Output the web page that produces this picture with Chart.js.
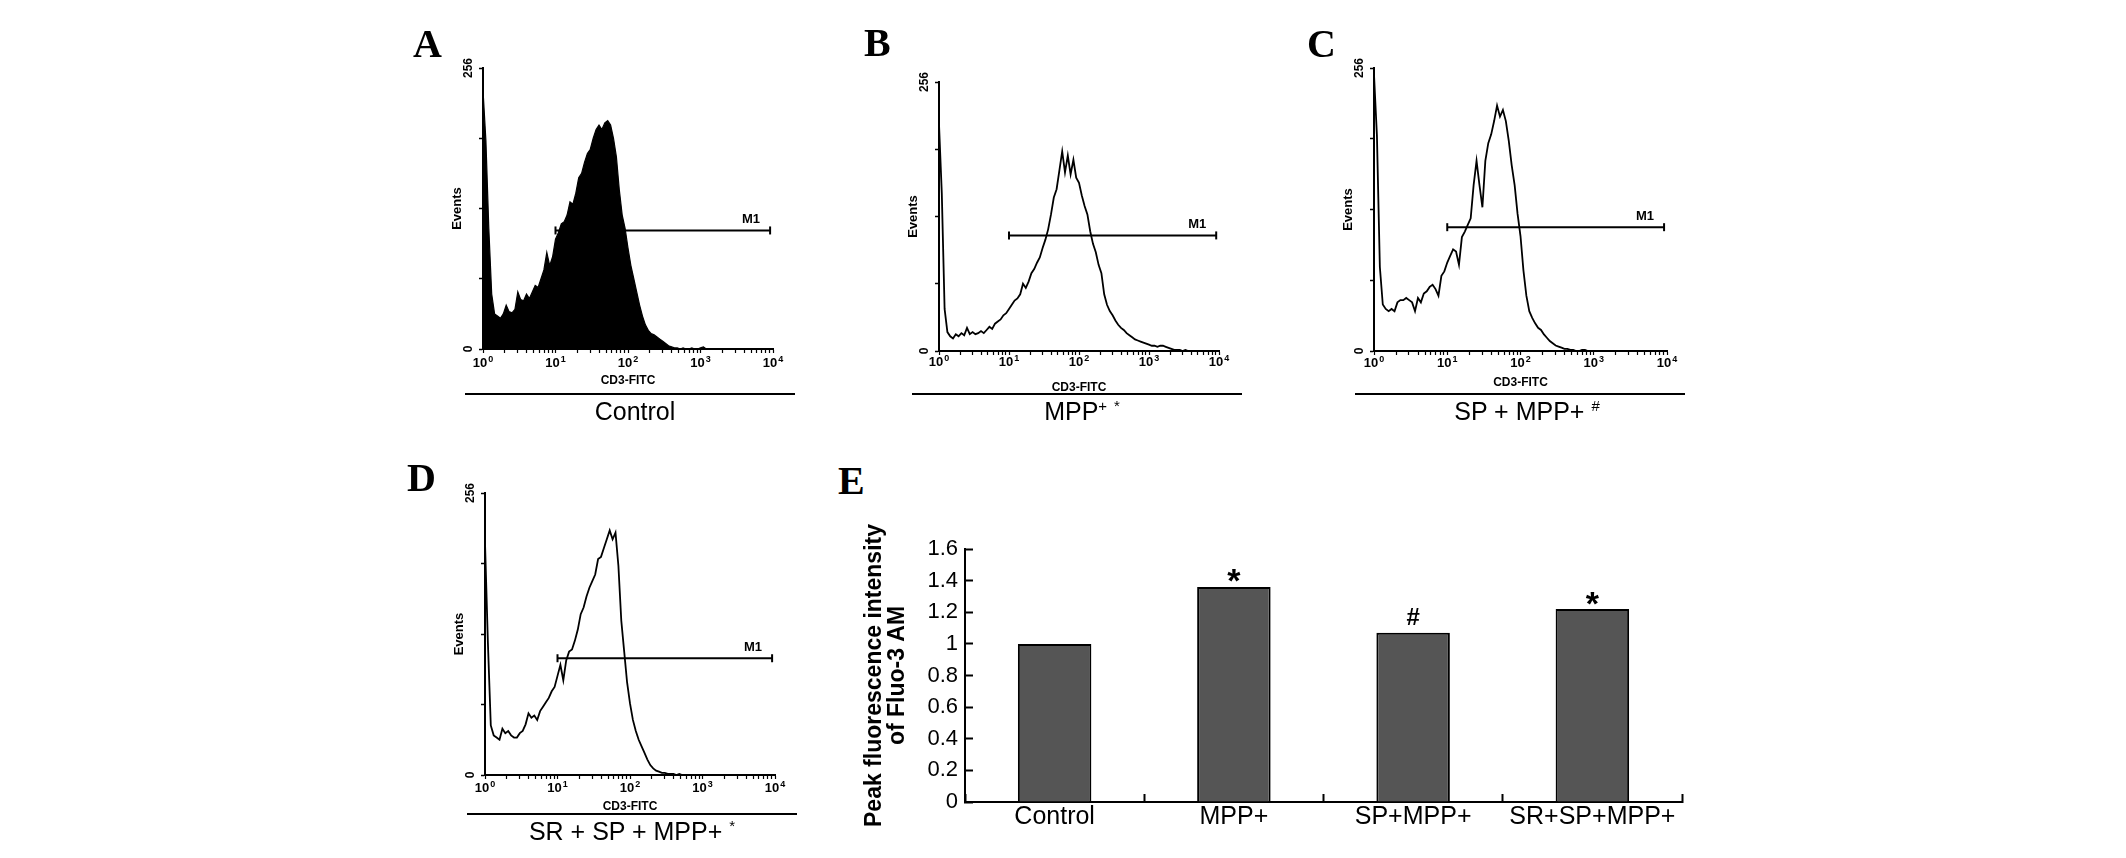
<!DOCTYPE html>
<html><head><meta charset="utf-8">
<script src="https://cdn.jsdelivr.net/npm/chart.js@4.4.1/dist/chart.umd.min.js"></script>
<style>
html,body{margin:0;padding:0;background:#fff;}
body{width:2126px;height:858px;position:relative;overflow:hidden;font-family:'Liberation Sans',Arial,sans-serif;color:#000;}
canvas{position:absolute;}
.letter{position:absolute;font-family:'Liberation Serif','Times New Roman',serif;font-weight:bold;font-size:40px;line-height:40px;z-index:2;}
.rule{position:absolute;height:2px;background:#000;z-index:2;}
.cap{position:absolute;width:400px;text-align:center;font-size:25px;line-height:25px;white-space:nowrap;z-index:2;}
.sup{font-size:15px;position:relative;top:-9px;}
</style></head><body>
<div class="letter" style="left:413px;top:24px;">A</div>
<div class="letter" style="left:864px;top:23px;">B</div>
<div class="letter" style="left:1307px;top:24px;">C</div>
<div class="letter" style="left:407px;top:458px;">D</div>
<div class="letter" style="left:838px;top:461px;">E</div>

<div class="rule" style="left:465px;top:393px;width:330px;"></div>
<div class="rule" style="left:912px;top:393px;width:330px;"></div>
<div class="rule" style="left:1355px;top:393px;width:330px;"></div>
<div class="rule" style="left:467px;top:813px;width:330px;"></div>

<div class="cap" style="left:435px;top:399px;">Control</div>
<div class="cap" style="left:882px;top:399px;">MPP<span class="sup">+</span> <span class="sup">*</span></div>
<div class="cap" style="left:1327px;top:399px;">SP + MPP+ <span class="sup">#</span></div>
<div class="cap" style="left:432px;top:819px;">SR + SP + MPP+ <span class="sup">*</span></div>

<canvas id="cA" width="400" height="361" style="left:413px;top:38px;"></canvas>
<canvas id="cB" width="390" height="349" style="left:869px;top:52px;"></canvas>
<canvas id="cC" width="403" height="363" style="left:1304px;top:38px;"></canvas>
<canvas id="cD" width="400" height="362" style="left:415px;top:463px;"></canvas>
<canvas id="cE" width="870" height="338" style="left:840px;top:520px;"></canvas>

<script>
// ---------- Data ----------
// Flow-cytometry histograms: events per channel, 25 channels per decade (10^0 .. 10^4)
const countsControl = [236,190,110,50,32,30,28,32,40,34,
 33,36,52,45,44,50,46,52,58,56,
 64,72,88,76,84,100,106,114,116,122,
 134,132,142,156,160,170,178,182,192,200,
 204,200,206,208,204,192,175,145,122,110,
 92,76,64,52,40,30,22,17,14,13,
 11,9,7,5,3,2,1,1,0,1,
 0,0,1,0,0,1,2,0,0,0,
 0,0,0,0,0,0,0,0,0,0,
 0,0,0,0,0,0,0,0,0,0];
const countsMPP = [216,150,40,18,14,12,16,14,17,15,
 22,16,18,16,17,19,17,20,23,21,
 26,28,30,34,36,40,44,48,50,54,
 64,60,66,74,78,84,89,98,106,116,
 130,146,154,172,190,170,186,168,182,165,
 160,148,138,130,114,102,94,82,74,54,
 44,38,34,29,25,22,20,17,15,13,
 11,10,9,8,7,6,5,5,4,5,
 5,4,3,2,1,1,1,0,1,0,
 0,0,0,0,0,0,0,0,0,0];
const countsSPMPP = [250,195,76,42,38,36,38,36,44,46,
 46,48,46,44,36,48,44,52,54,58,
 60,56,50,68,72,80,86,92,90,78,
 103,108,114,120,150,172,150,130,172,188,
 196,208,222,212,218,208,190,168,150,124,
 104,73,50,36,30,25,21,19,15,12,
 9,7,5,4,3,2,2,1,1,0,
 0,1,1,0,0,0,0,0,0,0,
 0,0,0,0,0,0,0,0,0,0,
 0,0,0,0,0,0,0,0,0,0];
const countsSRSPMPP = [211,120,45,36,34,32,42,38,40,36,
 34,34,38,40,46,56,52,54,50,58,
 62,66,70,76,80,90,100,86,104,112,
 114,122,132,146,152,162,170,176,182,196,
 198,206,214,222,214,220,190,140,112,84,
 65,50,40,32,26,20,14,9,6,4,
 3,2,2,1,1,1,0,1,0,0,
 0,0,0,0,0,0,0,0,0,0,
 0,0,0,0,0,0,0,0,0,0,
 0,0,0,0,0,0,0,0,0,0];
// M1 gate: [start channel, end channel, level]
const gateControl = [25, 99, 108];
const gateMPP = [25, 99, 110];
const gateSPMPP = [25, 99, 112];
const gateSRSPMPP = [25, 99, 106];
// Histogram axes
const channelsPerDecade = 25;
const decadeExponents = ['0','1','2','3','4'];
const yHistTicks = [0, 64, 128, 192, 256];
const yHistLabels = [0, 256];
// Panel E bar chart
const groups = ['Control', 'MPP+', 'SP+MPP+', 'SR+SP+MPP+'];
const peakIntensity = [1.00, 1.36, 1.07, 1.22];
const sigMarks = ['', '*', '#', '*'];

// ---------- Chart setup ----------
const FAM = "'Liberation Sans', Arial, sans-serif";
Chart.defaults.font.family = FAM;
Chart.defaults.color = '#000';

function logTicks() {
  const out = [];
  for (let k = 0; k < decadeExponents.length - 1; k++) {
    for (let m = 1; m <= 9; m++) out.push((k + Math.log10(m)) * channelsPerDecade);
  }
  out.push((decadeExponents.length - 1) * channelsPerDecade);
  return out;
}

const histLabels = {
  id: 'histLabels',
  afterDraw(chart, args, opts) {
    const {ctx} = chart;
    const x = chart.scales.x, y = chart.scales.y;
    const ax = x.getPixelForValue(0);
    const bottom = y.getPixelForValue(0);
    ctx.save();
    ctx.fillStyle = '#000';
    // y labels (rotated)
    ctx.font = 'bold 12px ' + FAM;
    ctx.textAlign = 'center'; ctx.textBaseline = 'middle';
    yHistLabels.forEach(v => {
      ctx.save(); ctx.translate(ax - 14, y.getPixelForValue(v)); ctx.rotate(-Math.PI / 2);
      ctx.fillText(String(v), 0, 0); ctx.restore();
    });
    ctx.font = 'bold 13px ' + FAM;
    ctx.save(); ctx.translate(ax - 26, (y.top + y.bottom) / 2); ctx.rotate(-Math.PI / 2);
    ctx.fillText('Events', 0, 0); ctx.restore();
    // decade labels
    ctx.textAlign = 'left'; ctx.textBaseline = 'alphabetic';
    decadeExponents.forEach((e, k) => {
      const px = x.getPixelForValue(k * channelsPerDecade);
      ctx.font = 'bold 13px ' + FAM; const w1 = ctx.measureText('10').width;
      ctx.font = 'bold 9px ' + FAM; const w2 = ctx.measureText(e).width;
      const s = px - (w1 + w2 + 1) / 2;
      ctx.font = 'bold 13px ' + FAM; ctx.fillText('10', s, bottom + 17 + (opts.xlOff || 0));
      ctx.font = 'bold 9px ' + FAM; ctx.fillText(e, s + w1 + 1, bottom + 12 + (opts.xlOff || 0));
    });
    // axis title
    ctx.font = 'bold 12px ' + FAM; ctx.textAlign = 'center';
    ctx.fillText('CD3-FITC', (x.left + x.right) / 2, bottom + opts.cdOffset + 4);
    // gate label
    const g = chart.data.datasets[1].data;
    ctx.font = 'bold 13px ' + FAM; ctx.textAlign = 'right';
    ctx.fillText('M1', x.getPixelForValue(g[1].x) - 10, y.getPixelForValue(g[1].y) - 7);
    ctx.restore();
  }
};

function makeHist(id, counts, gate, filled, pad, cdOffset, xlOff) {
  return new Chart(document.getElementById(id), {
    type: 'line',
    data: {
      datasets: [
        { data: counts.map((v, i) => ({x: i, y: v})), borderColor: '#000', borderWidth: filled ? 1.2 : 1.8,
          pointRadius: 0, tension: 0, fill: filled ? 'origin' : false, backgroundColor: '#000' },
        { data: [{x: gate[0], y: gate[2]}, {x: gate[1], y: gate[2]}], borderColor: '#000', borderWidth: 2,
          pointStyle: 'line', pointRadius: 4, pointRotation: 90, pointBorderColor: '#000', pointBorderWidth: 2,
          fill: false }
      ]
    },
    options: {
      responsive: false, animation: false, devicePixelRatio: 1,
      layout: {padding: pad},
      plugins: {legend: {display: false}, tooltip: {enabled: false}, histLabels: {cdOffset, xlOff}},
      scales: {
        x: { type: 'linear', min: 0, max: (decadeExponents.length - 1) * channelsPerDecade,
             afterBuildTicks: s => { s.ticks = logTicks().map(v => ({value: v})); },
             ticks: {display: false},
             grid: {drawOnChartArea: false, drawTicks: true, tickLength: 4, color: '#000', tickWidth: 1.2},
             border: {display: true, color: '#000', width: 2},
             afterFit: s => { s.height = 6; } },
        y: { type: 'linear', min: 0, max: 256,
             afterBuildTicks: s => { s.ticks = yHistTicks.map(v => ({value: v})); },
             ticks: {display: false},
             grid: {drawOnChartArea: false, drawTicks: true, tickLength: 4, color: '#000', tickWidth: 1.5},
             border: {display: true, color: '#000', width: 2},
             afterFit: s => { s.width = 6; } }
      }
    },
    plugins: [histLabels]
  });
}

const hpad = {left: 64, top: 30, right: 40, bottom: 44};
makeHist('cA', countsControl, gateControl, true, hpad, 31, 1);
makeHist('cB', countsMPP, gateMPP, false, hpad, 36, -2);
makeHist('cC', countsSPMPP, gateSPMPP, false, hpad, 31, -1);
makeHist('cD', countsSRSPMPP, gateSRSPMPP, false, hpad, 31, 0);

const sigPlugin = {
  id: 'sig',
  afterDatasetsDraw(chart) {
    const {ctx} = chart;
    const meta = chart.getDatasetMeta(0);
    ctx.save();
    ctx.fillStyle = '#000'; ctx.textAlign = 'center'; ctx.textBaseline = 'alphabetic';
    meta.data.forEach((bar, i) => {
      const m = sigMarks[i];
      if (!m) return;
      ctx.font = (m === '*' ? 'bold 34px ' : 'bold 24px ') + FAM;
      const mt = ctx.measureText(m);
      const center = bar.y - (m === '*' ? 11 : 16);
      const base = center + (mt.actualBoundingBoxAscent - mt.actualBoundingBoxDescent) / 2;
      ctx.fillText(m, bar.x, base);
    });
    ctx.restore();
  }
};

new Chart(document.getElementById('cE'), {
  type: 'bar',
  data: {labels: groups, datasets: [{data: peakIntensity, backgroundColor: '#555555', borderColor: '#000',
    borderWidth: 2, categoryPercentage: 1, barPercentage: 0.41}]},
  options: {
    responsive: false, animation: false, devicePixelRatio: 1,
    layout: {padding: {left: 0, top: 29, right: 28, bottom: 0}},
    plugins: {legend: {display: false}, tooltip: {enabled: false}},
    scales: {
      x: { grid: {display: true, drawOnChartArea: false, tickLength: -8, color: '#000', tickWidth: 2, offset: true},
           border: {display: true, color: '#000', width: 2},
           ticks: {color: '#000', font: {size: 25}, padding: 8, maxRotation: 0, minRotation: 0, autoSkip: false},
           afterFit: s => { s.height = 56; } },
      y: { min: 0, max: 1.6,
           grid: {drawOnChartArea: false, tickLength: -8, color: '#000', tickWidth: 2},
           border: {display: true, color: '#000', width: 2},
           ticks: {stepSize: 0.2, color: '#000', font: {size: 22}, padding: 15,
                   callback: v => String(Math.round(v * 10) / 10)},
           title: {display: true, text: ['Peak fluorescence intensity', 'of Fluo-3 AM'], color: '#000',
                   font: {size: 23, weight: 'bold', lineHeight: 1}, padding: {top: 23, bottom: 0}},
           afterFit: s => { s.width = 125; } }
    }
  },
  plugins: [sigPlugin]
});
</script>
</body></html>
